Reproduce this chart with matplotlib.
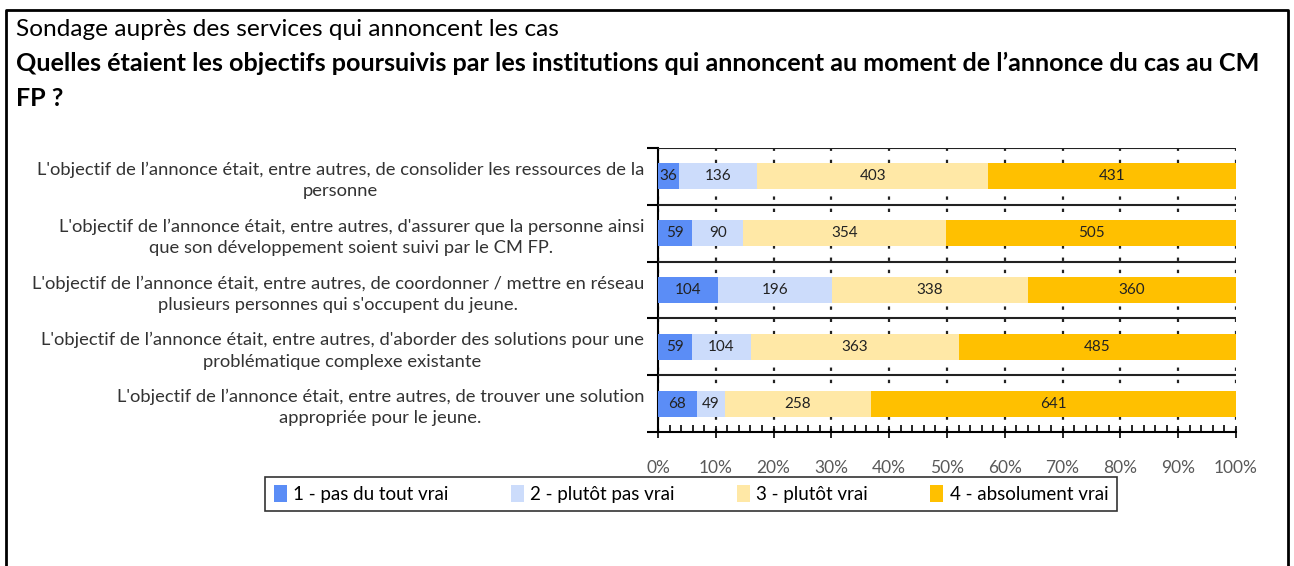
import numpy as np
import matplotlib
matplotlib.use("Agg")
import matplotlib.pyplot as plt
from matplotlib.ticker import MultipleLocator, PercentFormatter

plt.rcParams['font.family'] = ['Lato', 'DejaVu Sans']

# Données (effectifs par réponse)
categories = [
    "L'objectif de l\u2019annonce était, entre autres, de consolider les ressources de la\npersonne",
    "L'objectif de l\u2019annonce était, entre autres, d'assurer que la personne ainsi\nque son développement soient suivi par le CM FP.",
    "L'objectif de l\u2019annonce était, entre autres, de coordonner / mettre en réseau\nplusieurs personnes qui s'occupent du jeune.",
    "L'objectif de l\u2019annonce était, entre autres, d'aborder des solutions pour une\nproblématique complexe existante",
    "L'objectif de l\u2019annonce était, entre autres, de trouver une solution\nappropriée pour le jeune.",
]
pas_du_tout = [36, 59, 104, 59, 68]
plutot_pas = [136, 90, 196, 104, 49]
plutot_vrai = [403, 354, 338, 363, 258]
absolument = [431, 505, 360, 485, 641]
series_labels = ["1 - pas du tout vrai", "2 - plutôt pas vrai", "3 - plutôt vrai", "4 - absolument vrai"]
colors = ["#5B8DF6", "#CCDCFB", "#FFE8A6", "#FFC000"]

counts = np.array([pas_du_tout, plutot_pas, plutot_vrai, absolument], dtype=float)
shares = counts / counts.sum(axis=0) * 100

W, H = 1294, 566
fig = plt.figure(figsize=(W / 100, H / 100), dpi=100)

# cadre extérieur (sans bord inférieur)
fig.add_artist(plt.Line2D([6 / W, 6 / W, 1288 / W, 1288 / W], [0, 1 - 10 / H, 1 - 10 / H, 0],
                          transform=fig.transFigure, color='black', lw=2))

fig.text(16 / W, 1 - 29 / H, "Sondage auprès des services qui annoncent les cas",
         fontsize=17.6, va='center', ha='left')
fig.text(16 / W, 1 - 63 / H,
         "Quelles étaient les objectifs poursuivis par les institutions qui annoncent au moment de l\u2019annonce du cas au CM",
         fontsize=18.1, fontweight='bold', va='center', ha='left')
fig.text(16 / W, 1 - 98 / H, "FP ?", fontsize=18.1, fontweight='bold', va='center', ha='left')

ax = fig.add_axes([658 / W, 1 - 432 / H, (1236 - 658) / W, (432 - 148) / H])
y = np.arange(len(categories))
left = np.zeros(len(categories))
for i in range(4):
    bars = ax.barh(y, shares[i], left=left, height=0.46, color=colors[i],
                   label=series_labels[i], zorder=3)
    ax.bar_label(bars, labels=[f"{int(v)}" for v in counts[i]], label_type='center',
                 fontsize=11, color='#222222')
    left += shares[i]

ax.set_xlim(0, 100)
ax.set_ylim(len(categories) - 0.5, -0.5)

# séparateurs horizontaux
for b in np.arange(-0.5, len(categories) - 0.5, 1):
    ax.axhline(b, color='#222222', lw=1.5, zorder=4)

ax.xaxis.set_major_locator(MultipleLocator(10))
ax.xaxis.set_minor_locator(MultipleLocator(2))
ax.xaxis.set_major_formatter(PercentFormatter(decimals=0))
ax.grid(axis='x', which='major', color='#222222', linestyle=(0, (1.5, 4)), lw=1.6, zorder=1)
ax.tick_params(axis='x', which='major', direction='inout', length=9, width=1.2,
               pad=16, labelsize=12.5, labelcolor='#595959')
ax.tick_params(axis='x', which='minor', direction='in', length=5, width=1.2)

ax.set_yticks(np.arange(-0.5, len(categories), 1))
ax.set_yticklabels([])
ax.set_yticks(y, minor=True)
ax.set_yticklabels(categories, minor=True, fontsize=13.2, color='#333333',
                   multialignment='center', linespacing=1.4)
ax.tick_params(axis='y', which='major', direction='out', length=8, width=1.5)
ax.tick_params(axis='y', which='minor', length=0, pad=10)

for s in ['top', 'right']:
    ax.spines[s].set_visible(False)
ax.spines['left'].set_linewidth(1.5)
ax.spines['bottom'].set_linewidth(1.5)

leg = fig.legend(loc='center', bbox_to_anchor=((265 + 1117) / 2 / W, 1 - 494 / H),
                 ncol=4, fontsize=13.5, frameon=True, fancybox=False, edgecolor='black',
                 handlelength=0.7, handleheight=1.0, handletextpad=0.35, columnspacing=3.3,
                 borderpad=0.45, borderaxespad=0)
leg.get_frame().set_linewidth(1.2)

fig.savefig("out.png", dpi=100)
